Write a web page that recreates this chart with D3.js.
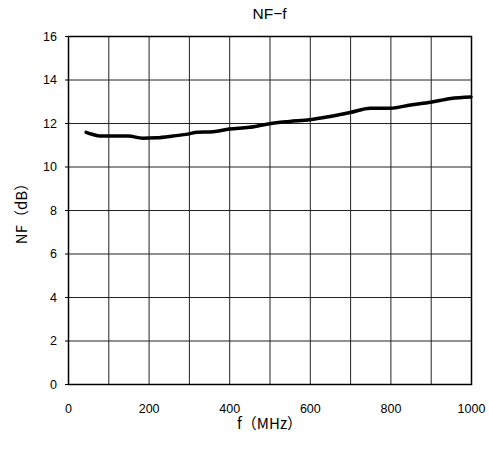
<!DOCTYPE html>
<html>
<head>
<meta charset="utf-8">
<script src="https://cdn.jsdelivr.net/npm/d3@7"></script>
<style>
body { margin: 0; background: #fff; }
svg { font-family: "Liberation Sans", Arial, sans-serif; }
</style>
</head>
<body>
<svg></svg>
<script>
var screen = {width: 489, height: 451}
var margins = {top: 36, right: 18, bottom: 67, left: 68}

var title = "NF\u2212f"
var xLabel = "f\uFF08MHz\uFF09"
var yLabel = "NF\uFF08dB\uFF09"

var freq = [45, 60, 80, 150, 185, 220, 260, 300, 320, 360, 400, 450, 500, 550, 600, 650, 700, 750, 800, 850, 900, 950, 1000]
var nf = [11.57, 11.48, 11.4, 11.4, 11.3, 11.32, 11.4, 11.5, 11.58, 11.6, 11.72, 11.8, 11.97, 12.07, 12.15, 12.3, 12.48, 12.68, 12.68, 12.83, 12.95, 13.13, 13.2]

var xTicks = [0, 200, 400, 600, 800, 1000]
var xGrid = d3.range(0, 1001, 100)
var yTicks = [0, 2, 4, 6, 8, 10, 12, 14, 16]

var width = screen.width - margins.left - margins.right
var height = screen.height - margins.top - margins.bottom

var svg = d3.select("svg")
    .attr("width", screen.width)
    .attr("height", screen.height)

var g = svg.append("g")
    .attr("transform", "translate(" + margins.left + "," + margins.top + ")")

var xScale = d3.scaleLinear().domain([0, 1000]).range([0, width])
var yScale = d3.scaleLinear().domain([0, 16]).range([height, 0])

// grid
g.append("g").selectAll("line")
    .data(xGrid)
    .enter()
    .append("line")
    .attr("x1", function(d){return xScale(d) + 0.5})
    .attr("x2", function(d){return xScale(d) + 0.5})
    .attr("y1", 0)
    .attr("y2", height)
    .attr("stroke", "#222")
    .attr("stroke-width", 1)

g.append("g").selectAll("line")
    .data(yTicks)
    .enter()
    .append("line")
    .attr("x1", 0)
    .attr("x2", width)
    .attr("y1", function(d){return yScale(d) + 0.5})
    .attr("y2", function(d){return yScale(d) + 0.5})
    .attr("stroke", "#222")
    .attr("stroke-width", 1)

g.append("rect")
    .attr("x", 0.5).attr("y", 0.5)
    .attr("width", width).attr("height", height)
    .attr("fill", "none")
    .attr("stroke", "#000")
    .attr("stroke-width", 1.5)

// axes
var yAxis = d3.axisLeft(yScale).tickValues(yTicks).tickSize(3).tickPadding(8)
var xAxis = d3.axisBottom(xScale).tickValues(xTicks).tickSize(0).tickPadding(20)
    .tickFormat(d3.format("d"))

var ya = g.append("g").call(yAxis)
ya.select(".domain").remove()
ya.selectAll("text").attr("font-size", 12.5).attr("fill", "#000")

var xa = g.append("g").attr("transform", "translate(0," + height + ")").call(xAxis)
xa.select(".domain").remove()
xa.selectAll("text").attr("font-size", 12.5).attr("fill", "#000")

// curve
var line = d3.line()
    .x(function(d, i){return xScale(freq[i])})
    .y(function(d){return yScale(d)})
    .curve(d3.curveMonotoneX)

g.append("path")
    .datum(nf)
    .attr("d", line)
    .attr("fill", "none")
    .attr("stroke", "#000")
    .attr("stroke-width", 3.5)
    .attr("stroke-linejoin", "round")
    .attr("stroke-linecap", "round")

// titles
svg.append("text")
    .attr("x", margins.left + width / 2)
    .attr("y", 19)
    .attr("text-anchor", "middle")
    .attr("font-size", 15.5)
    .text(title)

svg.append("text")
    .attr("x", margins.left + width / 2)
    .attr("y", 429)
    .attr("text-anchor", "middle")
    .attr("font-size", 15)
    .attr("font-family", "'Noto Sans CJK JP', sans-serif")
    .text(xLabel)

svg.append("text")
    .attr("transform", "translate(27," + (margins.top + height / 2) + ")rotate(-90)")
    .attr("text-anchor", "middle")
    .attr("font-size", 15)
    .attr("font-family", "'Noto Sans CJK JP', sans-serif")
    .text(yLabel)
</script>
</body>
</html>
